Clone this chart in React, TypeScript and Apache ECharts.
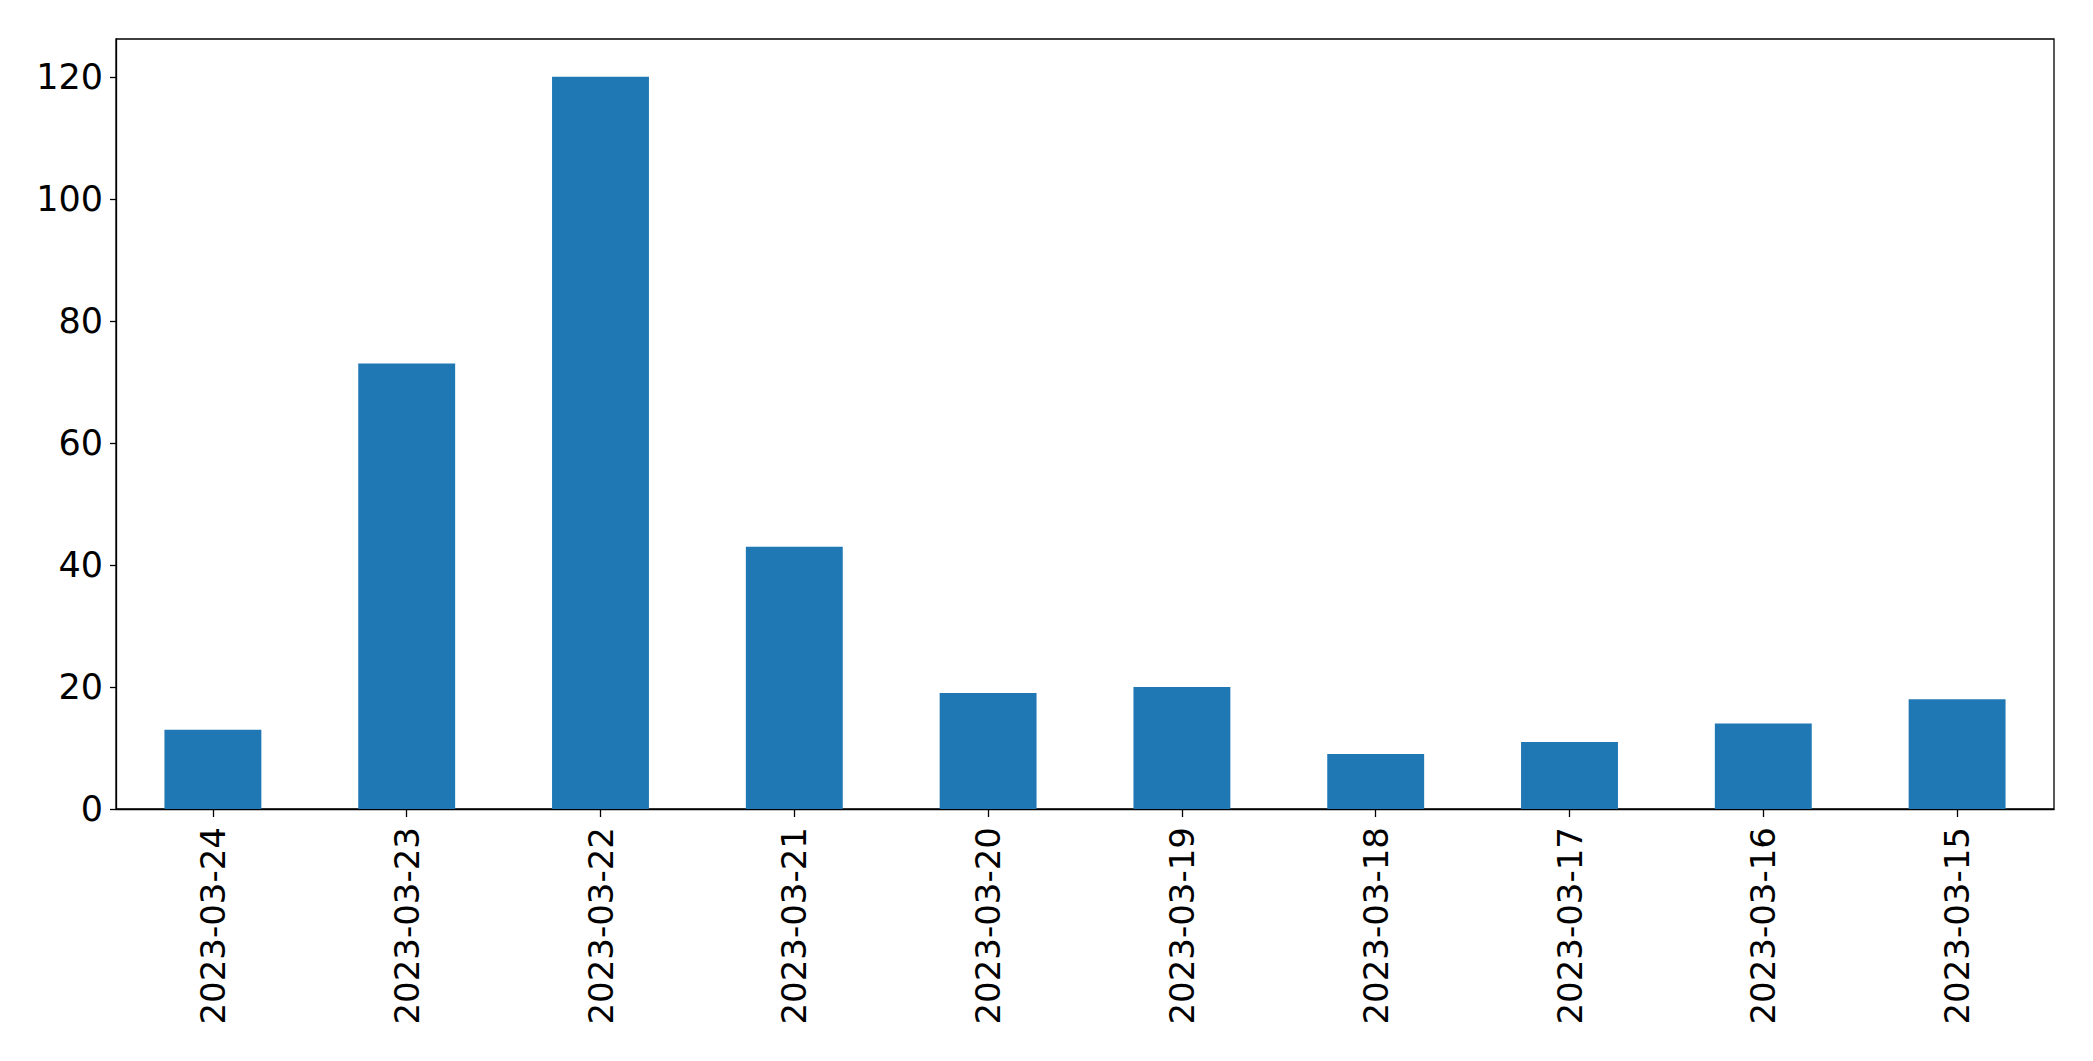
import React, { useEffect, useRef } from "react";
import * as echarts from "echarts";

const categories = [
  "2023-03-24",
  "2023-03-23",
  "2023-03-22",
  "2023-03-21",
  "2023-03-20",
  "2023-03-19",
  "2023-03-18",
  "2023-03-17",
  "2023-03-16",
  "2023-03-15",
];
const counts = [13, 73, 120, 43, 19, 20, 9, 11, 14, 18];
const yTicks = [0, 20, 40, 60, 80, 100, 120];

export default function App() {
  const ref = useRef<HTMLDivElement>(null);
  useEffect(() => {
    if (!ref.current) return;
    const chart = echarts.init(ref.current, null, { renderer: "svg" });
    const font = "DejaVu Sans";
    chart.setOption({
      animation: false,
      backgroundColor: "#ffffff",
      grid: {
        left: 116,
        right: 39,
        top: 39,
        bottom: 252,
        show: true,
        borderColor: "#000000",
        borderWidth: 1.3,
        backgroundColor: "transparent",
      },
      xAxis: {
        type: "category",
        data: categories,
        boundaryGap: true,
        axisLine: { show: true, lineStyle: { color: "#000000", width: 1.3 } },
        axisTick: { show: true, alignWithLabel: true, length: 8, lineStyle: { color: "#000000", width: 1.3 } },
        axisLabel: {
          rotate: 90,
          margin: 18,
          fontSize: 34,
          fontFamily: font,
          color: "#000000",
          interval: 0,
        },
        splitLine: { show: false },
      },
      yAxis: {
        type: "value",
        min: 0,
        max: 126.2,
        interval: 20,
        axisLine: { show: true, lineStyle: { color: "#000000", width: 1.3 } },
        axisTick: { show: true, length: 6, customValues: yTicks, lineStyle: { color: "#000000", width: 1.3 } },
        axisLabel: {
          margin: 13,
          fontSize: 35,
          fontFamily: font,
          color: "#000000",
          customValues: yTicks,
        },
        splitLine: { show: false },
      },
      series: [
        {
          type: "bar",
          data: counts,
          barWidth: "50%",
          itemStyle: { color: "#1f77b4" },
        },
      ],
    });
    return () => chart.dispose();
  }, []);
  return (
    <div
      ref={ref}
      style={{ position: "fixed", left: 0, top: 0, width: 2093, height: 1061, background: "#fff" }}
    />
  );
}
